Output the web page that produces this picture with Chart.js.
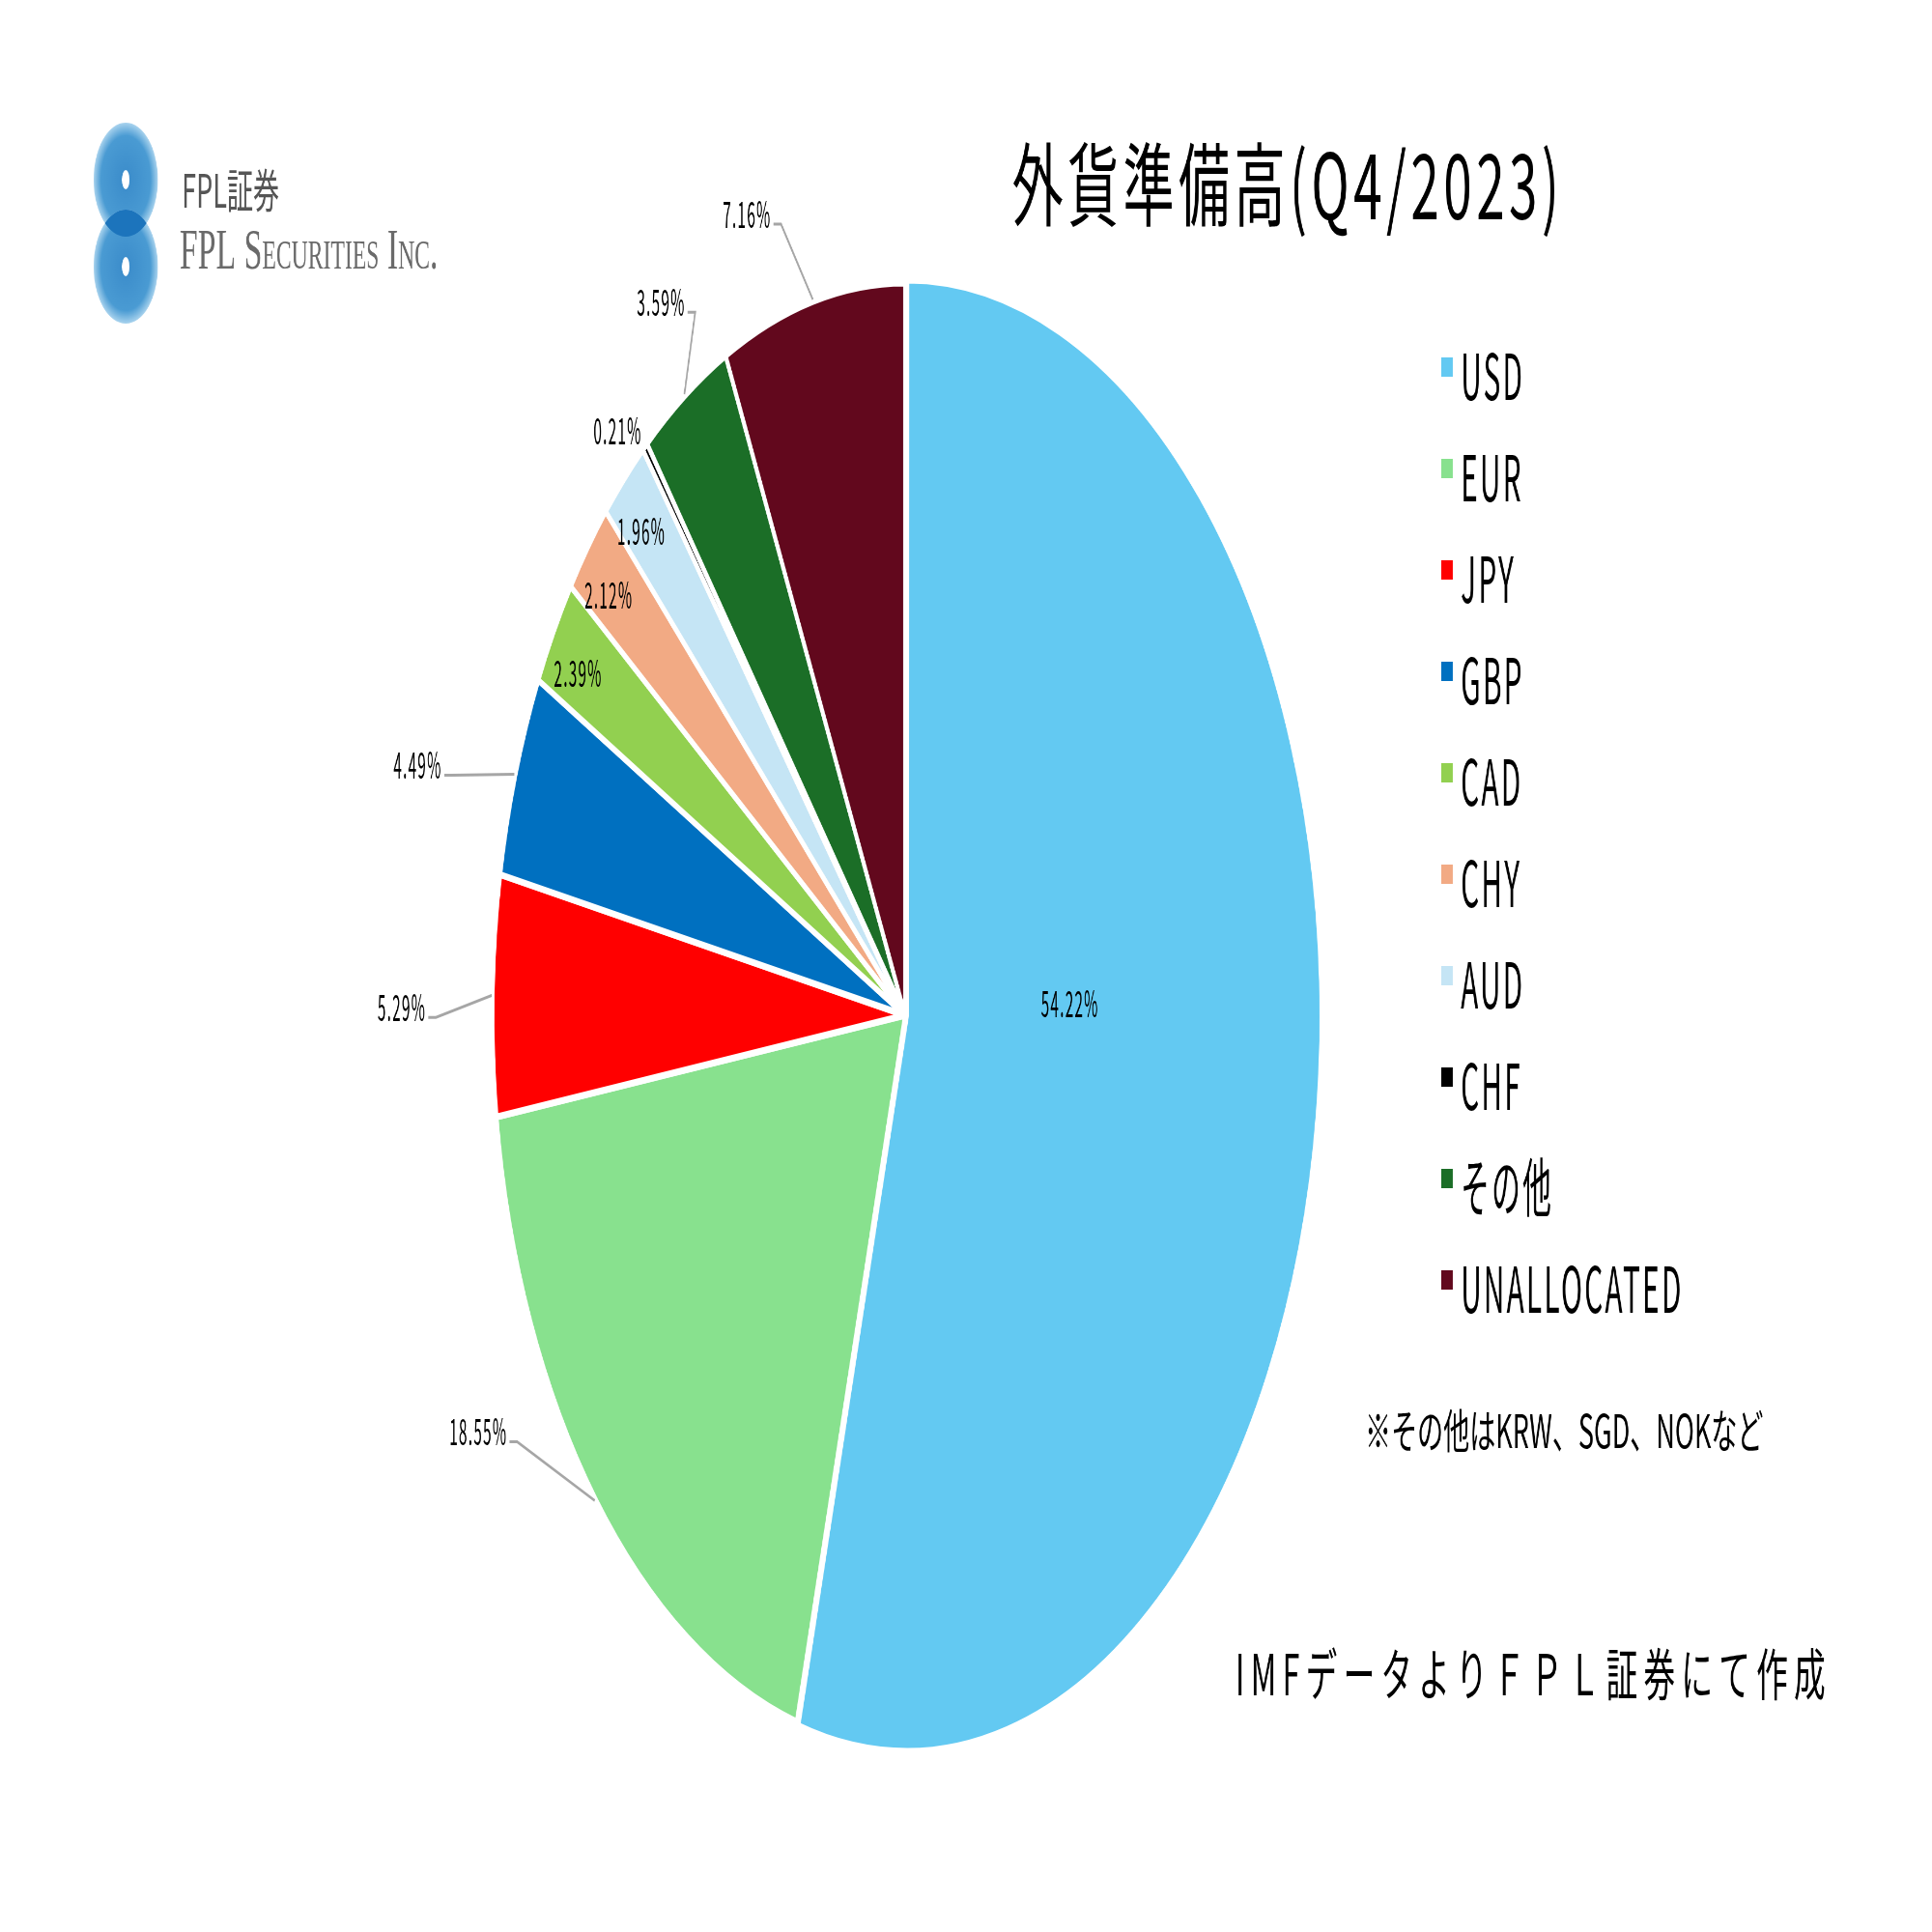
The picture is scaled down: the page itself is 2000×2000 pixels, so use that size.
<!DOCTYPE html>
<html>
<head>
<meta charset="utf-8">
<script src="https://cdn.jsdelivr.net/npm/chart.js@4.4.1/dist/chart.umd.min.js"></script>
<style>
  html, body { margin: 0; padding: 0; background: #fff; overflow: hidden; }
  #myChart { display: block; transform: scaleX(0.5634); transform-origin: 0 0; }
</style>
</head>
<body>
<canvas id="myChart" width="3550" height="2000"></canvas>
<script>
// data
const labels = ['USD', 'EUR', 'JPY', 'GBP', 'CAD', 'CHY', 'AUD', 'CHF', 'その他', 'UNALLOCATED'];
const shares = [54.22, 18.55, 5.29, 4.49, 2.39, 2.12, 1.96, 0.21, 3.59, 7.16];
const colors = ['#63C9F2', '#88E18E', '#FF0000', '#0070C0', '#92D050', '#F2AA84', '#C5E5F5', '#000000', '#1B6E27', '#62081D'];
const titleText = '外貨準備高(Q4/2023)';
const noteText = '※その他はKRW、SGD、NOKなど';
const sourceText = 'IMFデータよりＦＰＬ証券にて作成';

// where each percent label sits: distance (x radius) and turn (deg) from the slice middle
const labelDist = [0.40, 1.18, 1.22, 1.23, 0.92, 0.92, 0.92, 1.06, 1.14, 1.16];
const labelTurn = [-10, 12.6, -1, -3, -1, -1, -1, -2, 1, -6.4];

const JP = '"Noto Sans CJK JP", "Noto Sans", sans-serif';

function txt(ctx, s, x, y, font, opt) {
  opt = opt || {};
  ctx.save();
  ctx.font = font;
  ctx.fillStyle = opt.color || '#000';
  ctx.textAlign = opt.align || 'left';
  ctx.textBaseline = 'middle';
  if (opt.ls) ctx.letterSpacing = opt.ls + 'px';
  ctx.translate(x, y);
  ctx.scale(opt.sx || 1, 1);
  ctx.fillText(s, 0, 0);
  ctx.restore();
}

function drawLogo(ctx) {
  const cx = 231, r = 59;
  const tops = [186, 276];
  tops.forEach(cy => {
    const g = ctx.createRadialGradient(cx, cy, 5, cx, cy, r);
    g.addColorStop(0, '#3C8DCB');
    g.addColorStop(0.75, '#4A9BD3');
    g.addColorStop(1, '#A9D3EE');
    ctx.fillStyle = g;
    ctx.beginPath();
    ctx.arc(cx, cy, r, 0, Math.PI * 2);
    ctx.fill();
  });
  // overlap
  ctx.save();
  ctx.beginPath();
  ctx.arc(cx, tops[0], r, 0, Math.PI * 2);
  ctx.clip();
  ctx.fillStyle = '#1C74BC';
  ctx.beginPath();
  ctx.arc(cx, tops[1], r, 0, Math.PI * 2);
  ctx.fill();
  ctx.restore();
  ctx.fillStyle = '#fff';
  tops.forEach(cy => {
    ctx.beginPath();
    ctx.ellipse(cx, cy, 7, 10, 0, 0, Math.PI * 2);
    ctx.fill();
  });
  txt(ctx, 'FPL証券', 334, 197, '48px ' + JP, {color: '#555'});
  txt(ctx, 'FPL Securities Inc.', 330, 262, 'small-caps 60px "Liberation Serif", serif', {color: '#6a6a6a'});
}

const extras = {
  id: 'extras',
  afterDraw(chart) {
    const ctx = chart.ctx;
    const meta = chart.getDatasetMeta(0);
    const ds = chart.data.datasets[0];

    // percent labels + leader lines
    meta.data.forEach((arc, i) => {
      const p = arc.getProps(['x', 'y', 'startAngle', 'endAngle', 'outerRadius'], true);
      const mid = (p.startAngle + p.endAngle) / 2;
      const ang = mid + labelTurn[i] * Math.PI / 180;
      const R = p.outerRadius;
      const lx = p.x + Math.cos(ang) * R * labelDist[i];
      const ly = p.y + Math.sin(ang) * R * labelDist[i];
      const s = ds.data[i].toFixed(2) + '%';
      const font = '38px ' + JP;
      const sx = 0.72;
      ctx.save();
      ctx.font = font;
      ctx.letterSpacing = '3px';
      const w = ctx.measureText(s).width * sx;
      ctx.restore();
      if (labelDist[i] > 1.1) {
        const left = lx < p.x;
        const ax = left ? lx + w / 2 + 4 : lx - w / 2 - 4;
        const ay = ly + 11;
        const bx = left ? ax + 14 : ax - 14;
        const ex = p.x + Math.cos(mid) * (R + 2);
        const ey = p.y + Math.sin(mid) * (R + 2);
        ctx.save();
        ctx.strokeStyle = '#A6A6A6';
        ctx.lineWidth = 3;
        ctx.beginPath();
        ctx.moveTo(ax, ay);
        ctx.lineTo(bx, ay);
        ctx.lineTo(ex, ey);
        ctx.stroke();
        ctx.restore();
      }
      txt(ctx, s, lx, ly, font, {align: 'center', sx: sx, ls: 3});
    });

    // legend
    const lgX = 2648, lgY = 389, lgStep = 105;
    chart.data.labels.forEach((name, i) => {
      const y = lgY + i * lgStep;
      ctx.fillStyle = ds.backgroundColor[i];
      ctx.fillRect(lgX, y - 19, 21, 20);
      txt(ctx, name, lgX + 36, y, '66px ' + JP, {sx: 0.8, ls: 5});
    });

    // title and notes
    txt(ctx, titleText, 2366, 191, '94px ' + JP, {align: 'center', ls: 8});
    txt(ctx, noteText, 2508, 1481, '48px ' + JP);
    txt(ctx, sourceText, 2270, 1733, '58px ' + JP, {ls: 11});

    drawLogo(ctx);
  }
};

const config = {
  type: 'pie',
  data: {
    labels: labels,
    datasets: [{
      data: shares,
      backgroundColor: colors,
      borderColor: '#ffffff',
      borderWidth: 7,
      radius: 758,
      offset: c => (c.dataIndex === 0 ? 14 : 0)
    }]
  },
  options: {
    responsive: false,
    animation: false,
    layout: { padding: { left: 0, right: 224, top: 102, bottom: 0 } },
    plugins: {
      legend: { display: false },
      title: { display: false },
      tooltip: { enabled: false }
    }
  },
  plugins: [extras]
};

new Chart(document.getElementById('myChart'), config);
</script>
</body>
</html>
